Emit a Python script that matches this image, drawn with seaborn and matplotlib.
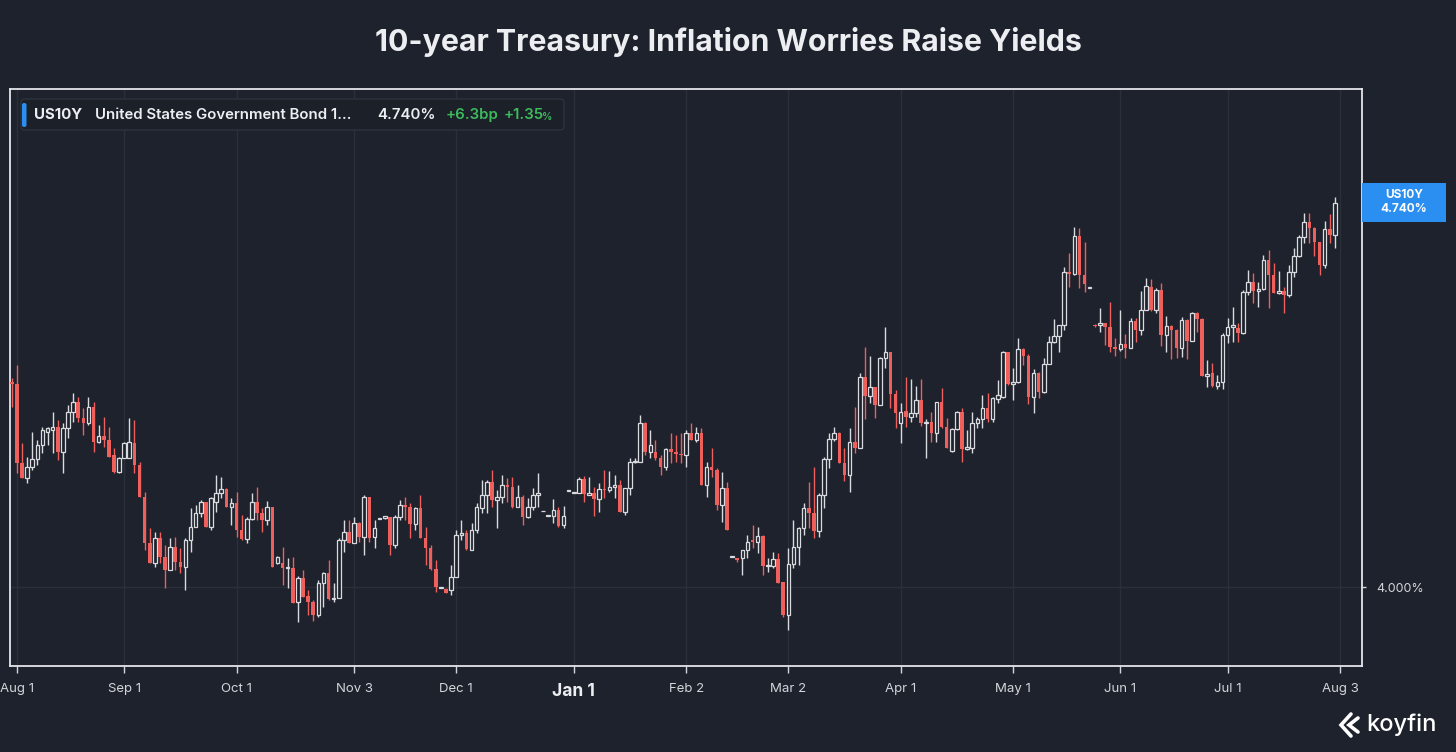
import numpy as np
import matplotlib
matplotlib.use("Agg")
import matplotlib.pyplot as plt
from matplotlib.patches import FancyBboxPatch, Rectangle
import seaborn as sns

# daily US10Y candles, one per trading day (yield in %)
opens = [
    4.395, 4.391, 4.239, 4.210, 4.231, 4.247, 4.273, 4.299, 4.302, 4.308,
    4.260, 4.306, 4.337, 4.356, 4.325, 4.316, 4.347, 4.279, 4.291, 4.283,
    4.254, 4.221, 4.248, 4.248, 4.277, 4.235, 4.173, 4.085, 4.046, 4.094,
    4.058, 4.033, 4.077, 4.048, 4.039, 4.091, 4.116, 4.143, 4.164, 4.116,
    4.164, 4.181, 4.189, 4.154, 4.162, 4.110, 4.092, 4.131, 4.164, 4.143,
    4.129, 4.154, 4.046, 4.046, 4.037, 4.037, 3.971, 4.017, 3.983, 3.971,
    3.946, 4.008, 4.027, 3.977, 3.979, 4.091, 4.106, 4.085, 4.123, 4.096,
    4.173, 4.096, 4.131, 4.133, 4.135, 4.081, 4.135, 4.158, 4.154, 4.121,
    4.152, 4.094, 4.075, 4.035, 3.998, 3.996, 3.994, 4.019, 4.100, 4.104,
    4.071, 4.110, 4.152, 4.177, 4.202, 4.168, 4.173, 4.196, 4.193, 4.154,
    4.173, 4.135, 4.154, 4.177, 4.146, 4.137, 4.137, 4.148, 4.120, 4.185,
    4.181, 4.181, 4.208, 4.177, 4.181, 4.170, 4.189, 4.187, 4.193, 4.196,
    4.145, 4.191, 4.241, 4.241, 4.316, 4.260, 4.260, 4.248, 4.231, 4.266,
    4.260, 4.256, 4.254, 4.297, 4.283, 4.297, 4.196, 4.231, 4.225, 4.158,
    4.191, 4.058, 4.056, 4.056, 4.071, 4.091, 4.087, 4.098, 4.040, 4.040,
    4.054, 4.010, 3.946, 4.044, 4.077, 4.114, 4.152, 4.143, 4.108, 4.177,
    4.247, 4.285, 4.297, 4.239, 4.216, 4.279, 4.268, 4.404, 4.368, 4.385,
    4.350, 4.441, 4.453, 4.372, 4.316, 4.339, 4.327, 4.335, 4.360, 4.316,
    4.318, 4.297, 4.356, 4.308, 4.262, 4.304, 4.337, 4.266, 4.268, 4.316,
    4.324, 4.345, 4.324, 4.362, 4.366, 4.453, 4.391, 4.395, 4.458, 4.445,
    4.366, 4.412, 4.376, 4.430, 4.472, 4.483, 4.505, 4.607, 4.603, 4.676,
    4.601, 4.576, 4.505, 4.505, 4.508, 4.501, 4.462, 4.458, 4.468, 4.460,
    4.512, 4.495, 4.533, 4.578, 4.533, 4.572, 4.485, 4.503, 4.495, 4.460,
    4.514, 4.474, 4.528, 4.516, 4.406, 4.412, 4.387, 4.395, 4.485, 4.501,
    4.499, 4.489, 4.568, 4.587, 4.570, 4.574, 4.630, 4.601, 4.566, 4.570,
    4.562, 4.607, 4.638, 4.674, 4.703, 4.691, 4.664, 4.620, 4.689, 4.677,
]
highs = [
    4.402, 4.428, 4.277, 4.250, 4.299, 4.283, 4.308, 4.308, 4.337, 4.322,
    4.316, 4.350, 4.374, 4.366, 4.345, 4.366, 4.356, 4.312, 4.327, 4.308,
    4.268, 4.250, 4.279, 4.325, 4.322, 4.241, 4.183, 4.114, 4.106, 4.106,
    4.081, 4.094, 4.096, 4.075, 4.094, 4.152, 4.158, 4.168, 4.164, 4.173,
    4.216, 4.212, 4.191, 4.171, 4.183, 4.139, 4.135, 4.181, 4.193, 4.152,
    4.166, 4.154, 4.060, 4.077, 4.056, 4.058, 4.021, 4.033, 3.994, 3.975,
    4.014, 4.029, 4.052, 4.008, 4.094, 4.129, 4.129, 4.135, 4.125, 4.177,
    4.173, 4.129, 4.131, 4.137, 4.135, 4.139, 4.168, 4.173, 4.162, 4.154,
    4.177, 4.116, 4.081, 4.052, 4.000, 3.998, 4.042, 4.110, 4.129, 4.110,
    4.123, 4.162, 4.206, 4.206, 4.225, 4.187, 4.216, 4.210, 4.212, 4.196,
    4.177, 4.171, 4.191, 4.220, 4.146, 4.137, 4.170, 4.154, 4.156, 4.185,
    4.181, 4.212, 4.214, 4.212, 4.193, 4.200, 4.225, 4.223, 4.216, 4.206,
    4.191, 4.248, 4.248, 4.331, 4.318, 4.302, 4.283, 4.254, 4.268, 4.297,
    4.293, 4.297, 4.302, 4.316, 4.308, 4.306, 4.241, 4.268, 4.229, 4.221,
    4.202, 4.058, 4.056, 4.071, 4.100, 4.120, 4.116, 4.100, 4.056, 4.067,
    4.065, 4.010, 4.075, 4.129, 4.116, 4.162, 4.202, 4.231, 4.181, 4.250,
    4.297, 4.308, 4.299, 4.268, 4.306, 4.347, 4.412, 4.462, 4.445, 4.385,
    4.443, 4.501, 4.453, 4.379, 4.354, 4.404, 4.401, 4.387, 4.401, 4.324,
    4.337, 4.356, 4.383, 4.325, 4.306, 4.339, 4.345, 4.302, 4.337, 4.327,
    4.370, 4.374, 4.366, 4.399, 4.455, 4.453, 4.422, 4.480, 4.460, 4.449,
    4.420, 4.414, 4.441, 4.483, 4.516, 4.505, 4.616, 4.643, 4.693, 4.691,
    4.664, 4.576, 4.507, 4.537, 4.508, 4.549, 4.480, 4.533, 4.487, 4.518,
    4.518, 4.570, 4.595, 4.593, 4.576, 4.585, 4.522, 4.505, 4.497, 4.520,
    4.516, 4.530, 4.530, 4.518, 4.437, 4.431, 4.408, 4.489, 4.518, 4.539,
    4.508, 4.572, 4.611, 4.605, 4.587, 4.639, 4.649, 4.624, 4.609, 4.578,
    4.620, 4.653, 4.678, 4.720, 4.720, 4.693, 4.664, 4.705, 4.718, 4.751,
]
lows = [
    4.347, 4.220, 4.210, 4.200, 4.225, 4.235, 4.258, 4.273, 4.258, 4.245,
    4.220, 4.287, 4.318, 4.318, 4.293, 4.312, 4.260, 4.277, 4.270, 4.250,
    4.220, 4.220, 4.248, 4.248, 4.220, 4.173, 4.071, 4.046, 4.039, 4.046,
    3.998, 4.033, 4.033, 4.027, 3.994, 4.067, 4.116, 4.135, 4.116, 4.110,
    4.145, 4.171, 4.154, 4.120, 4.096, 4.091, 4.085, 4.129, 4.129, 4.106,
    4.120, 4.039, 4.044, 4.004, 3.998, 3.969, 3.933, 3.981, 3.946, 3.935,
    3.942, 3.962, 3.975, 3.971, 3.979, 4.067, 4.085, 4.085, 4.087, 4.062,
    4.087, 4.075, 4.131, 4.131, 4.062, 4.075, 4.129, 4.129, 4.094, 4.110,
    4.094, 4.042, 4.033, 3.990, 3.998, 3.988, 3.985, 4.019, 4.091, 4.071,
    4.071, 4.104, 4.143, 4.143, 4.154, 4.114, 4.162, 4.164, 4.152, 4.154,
    4.120, 4.133, 4.148, 4.154, 4.146, 4.137, 4.123, 4.116, 4.114, 4.185,
    4.181, 4.181, 4.164, 4.177, 4.137, 4.145, 4.171, 4.183, 4.171, 4.145,
    4.139, 4.177, 4.239, 4.241, 4.254, 4.248, 4.245, 4.216, 4.225, 4.239,
    4.241, 4.239, 4.231, 4.283, 4.279, 4.196, 4.173, 4.212, 4.148, 4.125,
    4.110, 4.058, 4.048, 4.023, 4.056, 4.075, 4.065, 4.023, 4.029, 4.037,
    4.008, 3.942, 3.917, 4.037, 4.042, 4.100, 4.114, 4.094, 4.096, 4.152,
    4.229, 4.281, 4.239, 4.204, 4.183, 4.258, 4.268, 4.324, 4.354, 4.325,
    4.350, 4.422, 4.345, 4.306, 4.277, 4.308, 4.318, 4.327, 4.310, 4.248,
    4.279, 4.279, 4.306, 4.268, 4.260, 4.302, 4.241, 4.264, 4.258, 4.306,
    4.306, 4.318, 4.318, 4.354, 4.364, 4.389, 4.360, 4.393, 4.428, 4.352,
    4.335, 4.364, 4.374, 4.430, 4.470, 4.453, 4.495, 4.578, 4.601, 4.576,
    4.568, 4.576, 4.501, 4.491, 4.466, 4.453, 4.445, 4.455, 4.441, 4.460,
    4.472, 4.485, 4.533, 4.531, 4.528, 4.464, 4.453, 4.439, 4.441, 4.443,
    4.439, 4.474, 4.491, 4.406, 4.385, 4.385, 4.381, 4.381, 4.470, 4.472,
    4.472, 4.487, 4.562, 4.547, 4.539, 4.572, 4.537, 4.566, 4.564, 4.528,
    4.559, 4.597, 4.636, 4.663, 4.663, 4.638, 4.601, 4.614, 4.663, 4.653,
]
closes = [
    4.391, 4.239, 4.210, 4.231, 4.247, 4.273, 4.302, 4.306, 4.308, 4.260,
    4.306, 4.337, 4.356, 4.325, 4.316, 4.347, 4.279, 4.291, 4.283, 4.250,
    4.221, 4.248, 4.277, 4.279, 4.235, 4.173, 4.085, 4.046, 4.094, 4.058,
    4.033, 4.077, 4.048, 4.039, 4.091, 4.116, 4.143, 4.164, 4.116, 4.171,
    4.181, 4.189, 4.154, 4.162, 4.110, 4.092, 4.131, 4.164, 4.143, 4.129,
    4.154, 4.039, 4.058, 4.037, 4.039, 3.969, 4.017, 3.981, 3.971, 3.946,
    4.008, 4.027, 3.977, 3.979, 4.091, 4.106, 4.085, 4.123, 4.096, 4.173,
    4.094, 4.114, 4.131, 4.137, 4.081, 4.135, 4.158, 4.154, 4.121, 4.152,
    4.094, 4.075, 4.035, 4.000, 4.000, 3.988, 4.019, 4.100, 4.104, 4.073,
    4.110, 4.154, 4.177, 4.202, 4.168, 4.173, 4.196, 4.193, 4.154, 4.173,
    4.135, 4.154, 4.177, 4.181, 4.146, 4.137, 4.148, 4.118, 4.137, 4.185,
    4.181, 4.208, 4.179, 4.181, 4.170, 4.189, 4.187, 4.193, 4.196, 4.145,
    4.191, 4.241, 4.243, 4.316, 4.260, 4.273, 4.248, 4.231, 4.266, 4.260,
    4.256, 4.254, 4.297, 4.283, 4.297, 4.196, 4.231, 4.225, 4.158, 4.191,
    4.110, 4.058, 4.052, 4.071, 4.087, 4.087, 4.098, 4.040, 4.042, 4.054,
    4.008, 3.946, 4.044, 4.077, 4.114, 4.152, 4.143, 4.108, 4.177, 4.247,
    4.285, 4.297, 4.239, 4.216, 4.279, 4.268, 4.404, 4.368, 4.385, 4.350,
    4.441, 4.453, 4.372, 4.335, 4.337, 4.327, 4.335, 4.360, 4.316, 4.318,
    4.297, 4.356, 4.308, 4.268, 4.304, 4.337, 4.266, 4.270, 4.316, 4.324,
    4.345, 4.324, 4.364, 4.370, 4.453, 4.391, 4.395, 4.458, 4.445, 4.366,
    4.412, 4.376, 4.430, 4.472, 4.483, 4.505, 4.607, 4.603, 4.676, 4.601,
    4.584, 4.576, 4.503, 4.508, 4.501, 4.462, 4.458, 4.468, 4.460, 4.512,
    4.495, 4.533, 4.580, 4.533, 4.572, 4.485, 4.503, 4.495, 4.460, 4.514,
    4.474, 4.528, 4.516, 4.406, 4.410, 4.387, 4.395, 4.485, 4.501, 4.505,
    4.489, 4.568, 4.587, 4.570, 4.574, 4.630, 4.601, 4.566, 4.570, 4.562,
    4.607, 4.638, 4.674, 4.703, 4.691, 4.664, 4.620, 4.689, 4.677, 4.740,
]

# month ticks (position = candle index on the trading-day axis)
tick_pos = [1, 22, 44, 67, 87, 110, 132, 152, 174, 196, 217, 238, 260]
tick_labels = ["Aug 1", "Sep 1", "Oct 1", "Nov 3", "Dec 1", "Jan 1", "Feb 2",
               "Mar 2", "Apr 1", "May 1", "Jun 1", "Jul 1", "Aug 3"]

BG = "#1e222c"
RED = "#ef5f5c"
UP = "#d9dbe0"
TXT = "#d3d5da"

sns.set_theme(style="dark", rc={"axes.facecolor": BG, "figure.facecolor": BG})
plt.rcParams["font.family"] = ["Inter", "DejaVu Sans"]

W, H = 1456, 752
fig = plt.figure(figsize=(W / 100, H / 100), dpi=100)
fig.patch.set_facecolor(BG)

ax = fig.add_axes([10 / W, 1 - 666 / H, (1362 - 10) / W, (666 - 89) / H])
ax.set_facecolor(BG)

o = np.array(opens)
h = np.array(highs)
l = np.array(lows)
c = np.array(closes)
x = np.arange(len(c))
up = c >= o

# wicks
ax.vlines(x[up], l[up], h[up], colors=UP, linewidth=1.0, zorder=3)
ax.vlines(x[~up], l[~up], h[~up], colors=RED, linewidth=1.0, zorder=3)

# bodies: hollow for up days, filled red for down days
bw = 0.7
up_h = np.maximum(c[up] - o[up], 0.0012)
ax.bar(x[up], up_h, bottom=o[up], width=bw, facecolor=BG,
       edgecolor=UP, linewidth=0.9, zorder=4)
dn_h = np.maximum(o[~up] - c[~up], 0.0018)
ax.bar(x[~up], dn_h, bottom=c[~up], width=bw, color=RED, linewidth=0, zorder=4)

ax.set_xlim(-0.35, 264.3)
ax.set_ylim(3.848, 4.959)

ax.set_xticks(tick_pos)
ax.set_xticklabels(tick_labels)
ax.set_yticks([4.0])
ax.set_yticklabels(["4.000%"])
ax.yaxis.tick_right()
ax.grid(True, color="#2a2f3a", linewidth=1.0)
ax.tick_params(axis="x", colors=TXT, length=5, width=1.0, pad=7,
               labelsize=9.5, direction="out", bottom=True)
ax.tick_params(axis="y", colors=TXT, length=3, width=1.0, pad=7,
               labelsize=9, direction="out", right=True, left=False)
for lab in ax.get_xticklabels():
    lab.set_color(TXT)
    if lab.get_text() == "Jan 1":
        lab.set_fontweight("bold")
        lab.set_fontsize(12.5)
        lab.set_color("#eceef1")
for sp in ax.spines.values():
    sp.set_visible(True)
    sp.set_color("#e4e6ea")
    sp.set_linewidth(1.3)

# overlay in pixel coordinates for header boxes and labels
ov = fig.add_axes([0, 0, 1, 1], zorder=10)
ov.set_xlim(0, W)
ov.set_ylim(H, 0)
ov.axis("off")
ov.patch.set_alpha(0)

ov.text(728, 42, "10-year Treasury: Inflation Worries Raise Yields",
        ha="center", va="center", fontsize=21.8, fontweight="bold", color="#eceef1")

# legend chip
ov.add_patch(FancyBboxPatch((21, 99), 543, 31, boxstyle="round,pad=0,rounding_size=4",
                            facecolor="#1c2029", edgecolor="#2d323d", linewidth=1))
ov.add_patch(FancyBboxPatch((22, 103), 4.5, 24, boxstyle="round,pad=0,rounding_size=2",
                            facecolor="#2a8ff0", edgecolor="none"))
ov.text(34, 115, "US10Y", ha="left", va="center", fontsize=10.8,
        fontweight="bold", color="#eceef1")
ov.text(95, 115, "United States Government Bond 1\u2026", ha="left", va="center",
        fontsize=10.8, fontweight="semibold", color="#eceef1")
ov.text(377, 115, "4.740%", ha="left", va="center", fontsize=10.8,
        fontweight="semibold", color="#eceef1")
ov.text(446, 115, "+6.3bp", ha="left", va="center", fontsize=10.8,
        fontweight="semibold", color="#3dbb5c")
ov.text(504, 115, "+1.35", ha="left", va="center", fontsize=10.8,
        fontweight="semibold", color="#3dbb5c")
ov.text(542, 116.5, "%", ha="left", va="center", fontsize=7.5,
        fontweight="semibold", color="#3dbb5c")

# last-price tag on the right
ov.add_patch(Rectangle((1362, 183), 84, 38.5, facecolor="#2a8ff0", edgecolor="none"))
ov.text(1404, 195, "US10Y", ha="center", va="center", fontsize=8.5,
        fontweight="bold", color="white")
ov.text(1404, 209.5, "4.740%", ha="center", va="center", fontsize=8.5,
        fontweight="bold", color="white")

# koyfin mark
ov.plot([1351, 1341, 1351], [714, 725, 736], color="white", lw=2.6,
        solid_capstyle="round", solid_joinstyle="miter")
ov.plot([1358, 1349, 1358], [718, 725, 732], color="white", lw=2.6,
        solid_capstyle="round", solid_joinstyle="miter")
ov.text(1366, 725, "koyfin", ha="left", va="center", fontsize=17,
        fontweight="medium", color="white")

fig.savefig("out.png", dpi=100, facecolor=BG)
